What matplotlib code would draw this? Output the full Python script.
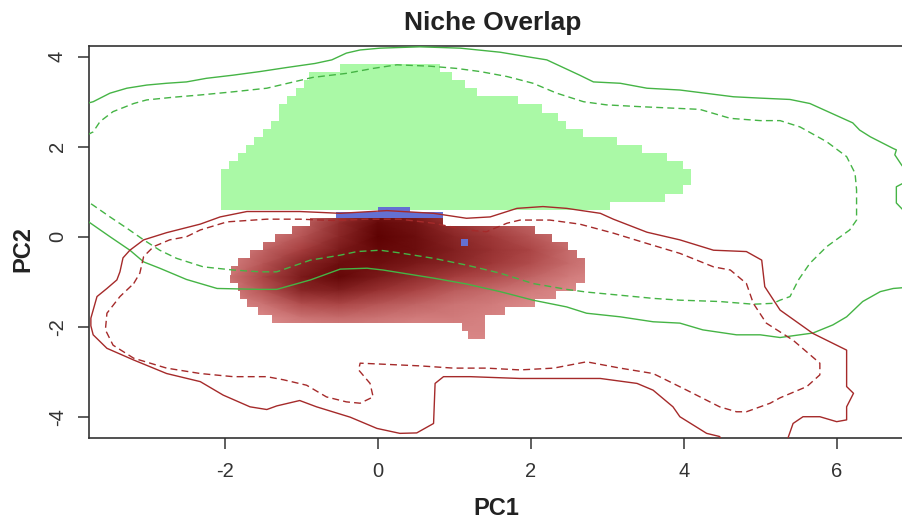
import numpy as np
import matplotlib
matplotlib.use('Agg')
import matplotlib.pyplot as plt
from matplotlib.colors import LinearSegmentedColormap
from matplotlib.path import Path

plt.rcParams['font.family'] = ['Liberation Sans', 'DejaVu Sans']
plt.rcParams['axes.unicode_minus'] = False

# ---------------- data (PC1 / PC2 units) ----------------
# green niche raster: one entry per grid row (row bottom, left edge, right edge)
green_y = [0.60, 0.78, 0.96, 1.14, 1.32, 1.50, 1.68, 1.86, 2.04, 2.22,
           2.40, 2.58, 2.76, 2.94, 3.12, 3.30, 3.48, 3.66]
green_left = [-2.05, -2.05, -2.05, -2.05, -2.05, -1.94, -1.83, -1.72, -1.62, -1.50,
              -1.40, -1.29, -1.29, -1.18, -1.07, -0.96, -0.90, -0.49]
green_right = [3.04, 3.75, 3.99, 4.09, 4.09, 3.99, 3.78, 3.46, 3.13, 2.68,
               2.46, 2.36, 2.15, 1.83, 1.30, 1.14, 0.97, 0.81]

# red niche raster rows
red_y = [0.24, 0.06, -0.12, -0.30, -0.48, -0.66, -0.84, -1.02, -1.20, -1.38,
         -1.56, -1.74, -1.92, -2.10, -2.28]
red_left = [-0.89, -1.12, -1.34, -1.50, -1.67, -1.83, -1.92, -1.93, -1.83, -1.80,
            -1.71, -1.57, -1.38, 1.10, 1.18]
red_right = [0.85, 2.06, 2.28, 2.49, 2.61, 2.71, 2.71, 2.71, 2.59, 2.33,
             2.06, 1.66, 1.40, 1.40, 1.40]

# density of the red niche (0 = light, 1 = darkest), coarse reading
dens_x = [-2.0, -1.5, -1.0, -0.5, 0.0, 0.5, 1.0, 1.5, 2.0, 2.5, 3.0]
dens_y = [0.6, 0.3, 0.0, -0.3, -0.6, -0.9, -1.2, -1.5, -1.8, -2.1, -2.4]
dens = [
    [0.00, 0.00, 0.10, 0.45, 0.80, 0.70, 0.45, 0.25, 0.10, 0.00, 0.00],
    [0.00, 0.05, 0.25, 0.65, 0.95, 0.85, 0.60, 0.40, 0.25, 0.05, 0.00],
    [0.00, 0.10, 0.35, 0.70, 1.00, 0.90, 0.70, 0.55, 0.35, 0.15, 0.05],
    [0.05, 0.25, 0.50, 0.80, 0.95, 0.90, 0.75, 0.60, 0.45, 0.20, 0.05],
    [0.05, 0.35, 0.70, 0.90, 0.90, 0.80, 0.70, 0.55, 0.40, 0.20, 0.05],
    [0.10, 0.45, 0.80, 0.95, 0.80, 0.65, 0.50, 0.40, 0.25, 0.10, 0.00],
    [0.05, 0.35, 0.70, 0.75, 0.60, 0.45, 0.30, 0.20, 0.10, 0.00, 0.00],
    [0.00, 0.15, 0.40, 0.45, 0.35, 0.25, 0.15, 0.10, 0.00, 0.00, 0.00],
    [0.00, 0.00, 0.15, 0.20, 0.15, 0.10, 0.10, 0.05, 0.00, 0.00, 0.00],
    [0.00, 0.00, 0.00, 0.05, 0.05, 0.00, 0.05, 0.05, 0.00, 0.00, 0.00],
    [0.00, 0.00, 0.00, 0.00, 0.00, 0.00, 0.00, 0.00, 0.00, 0.00, 0.00],
]

# overlap (blue) cells: bottom, height, left, right
blue_y = [0.42, 0.56, -0.21]
blue_h = [0.14, 0.11, 0.17]
blue_left = [-0.54, 0.00, 1.09]
blue_right = [0.85, 0.42, 1.18]

# contour lines (x, y)
green_solid_top = [(-3.83, 2.95), (-3.72, 3.00), (-3.50, 3.19), (-3.28, 3.30), (-3.02, 3.37),
                   (-2.76, 3.41), (-2.50, 3.44), (-2.24, 3.52), (-1.89, 3.59), (-1.54, 3.67),
                   (-1.19, 3.76), (-0.82, 3.85), (-0.60, 3.93), (-0.41, 4.08), (-0.23, 4.15),
                   (0.03, 4.19), (0.55, 4.22), (1.08, 4.19), (1.60, 4.10), (1.99, 3.99),
                   (2.21, 3.93), (2.64, 3.59), (2.82, 3.44), (3.17, 3.41), (3.52, 3.30),
                   (3.95, 3.26), (4.65, 3.11), (5.00, 3.08), (5.39, 3.05), (5.65, 2.96),
                   (6.21, 2.53), (6.30, 2.37), (6.44, 2.22), (6.74, 1.96), (6.78, 1.93),
                   (6.76, 1.82), (6.85, 1.59), (6.96, 1.37), (6.87, 1.19), (6.78, 1.11),
                   (6.78, 0.75), (6.87, 0.59), (6.96, 0.48)]
green_solid_low = [(-3.83, 0.39), (-3.72, 0.26), (-3.50, 0.00), (-3.24, -0.30), (-3.06, -0.56),
                   (-2.85, -0.70), (-2.50, -0.95), (-2.10, -1.15), (-1.54, -1.17), (-1.32, -1.17),
                   (-0.88, -0.96), (-0.49, -0.72), (-0.14, -0.70), (0.07, -0.74), (0.73, -0.92),
                   (1.16, -1.05), (1.60, -1.22), (2.03, -1.41), (2.47, -1.56), (2.73, -1.70),
                   (3.17, -1.78), (3.60, -1.89), (3.95, -1.92), (4.25, -2.07), (4.69, -2.18),
                   (5.00, -2.18), (5.26, -2.24), (5.69, -2.14), (5.95, -1.96), (6.13, -1.78),
                   (6.34, -1.44), (6.57, -1.22), (6.74, -1.15), (6.96, -1.12)]
green_dashed = [(-3.80, 2.26), (-3.72, 2.33), (-3.63, 2.56), (-3.46, 2.78), (-3.19, 2.96),
                (-3.02, 3.04), (-2.67, 3.10), (-2.32, 3.15), (-1.89, 3.22), (-1.45, 3.30),
                (-1.10, 3.44), (-0.85, 3.54), (-0.41, 3.63), (-0.06, 3.74), (0.25, 3.82),
                (0.68, 3.79), (1.03, 3.74), (1.34, 3.67), (1.69, 3.56), (2.03, 3.41),
                (2.34, 3.19), (2.69, 3.00), (2.99, 2.93), (3.43, 2.89), (3.95, 2.85),
                (4.21, 2.83), (4.61, 2.63), (5.00, 2.58), (5.26, 2.58), (5.52, 2.44),
                (5.87, 2.11), (6.13, 1.78), (6.24, 1.41), (6.26, 1.04), (6.26, 0.37),
                (6.17, 0.15), (5.87, -0.22), (5.65, -0.59), (5.50, -0.96), (5.39, -1.33),
                (5.26, -1.41), (5.17, -1.48), (4.91, -1.50), (4.47, -1.44), (3.95, -1.41),
                (3.60, -1.37), (3.17, -1.30), (2.73, -1.23), (2.47, -1.17), (2.03, -1.04),
                (1.60, -0.81), (1.16, -0.63), (0.73, -0.48), (0.29, -0.36), (0.03, -0.30),
                (-0.27, -0.33), (-0.49, -0.41), (-0.88, -0.52), (-1.32, -0.78), (-1.54, -0.78),
                (-1.89, -0.74), (-2.28, -0.67), (-2.63, -0.48), (-2.85, -0.30), (-3.06, -0.07),
                (-3.28, 0.19), (-3.50, 0.44), (-3.72, 0.70), (-3.80, 0.79)]
red_solid = [(4.50, -4.54), (4.47, -4.44), (4.30, -4.37), (3.95, -4.00), (3.86, -3.78),
             (3.60, -3.41), (3.39, -3.26), (2.91, -3.15), (1.86, -3.15), (1.21, -3.11),
             (0.86, -3.11), (0.75, -3.26), (0.73, -4.15), (0.51, -4.36), (0.29, -4.37),
             (-0.01, -4.26), (-0.36, -4.01), (-0.80, -3.78), (-1.02, -3.64), (-1.32, -3.76),
             (-1.45, -3.84), (-1.67, -3.78), (-2.02, -3.52), (-2.32, -3.22), (-2.76, -3.04),
             (-3.19, -2.74), (-3.54, -2.48), (-3.72, -2.18), (-3.75, -1.98), (-3.75, -1.81),
             (-3.72, -1.63), (-3.67, -1.33), (-3.54, -1.15), (-3.41, -0.96), (-3.37, -0.78),
             (-3.33, -0.47), (-3.24, -0.30), (-3.06, -0.07), (-2.76, 0.09), (-2.32, 0.28),
             (-2.06, 0.44), (-1.71, 0.56), (-1.45, 0.56), (-1.02, 0.56), (-0.49, 0.52),
             (0.12, 0.58), (0.73, 0.52), (1.16, 0.41), (1.47, 0.44), (1.82, 0.63),
             (2.16, 0.67), (2.47, 0.63), (2.91, 0.52), (3.08, 0.39), (3.52, 0.10),
             (3.95, -0.07), (4.39, -0.30), (4.82, -0.33), (5.02, -0.52), (5.06, -1.11),
             (5.26, -1.63), (5.69, -2.15), (6.13, -2.52), (6.13, -3.33), (6.22, -3.48),
             (6.13, -3.78), (6.13, -4.07), (6.00, -4.11), (5.78, -4.00), (5.56, -4.00),
             (5.43, -4.15), (5.37, -4.44), (5.35, -4.56)]
red_dashed = [(-3.19, -1.04), (-3.11, -0.81), (-3.06, -0.44), (-2.93, -0.22), (-2.72, -0.07),
              (-2.50, 0.00), (-2.32, 0.15), (-1.97, 0.33), (-1.45, 0.39), (-1.02, 0.39),
              (-0.58, 0.36), (-0.14, 0.39), (0.29, 0.39), (0.73, 0.30), (1.16, 0.15),
              (1.42, 0.11), (1.69, 0.30), (1.86, 0.37), (2.25, 0.37), (2.64, 0.28),
              (3.08, 0.08), (3.52, -0.15), (3.95, -0.37), (4.39, -0.67), (4.61, -0.74),
              (4.82, -1.04), (4.91, -1.48), (5.08, -1.92), (5.43, -2.30), (5.78, -2.81),
              (5.78, -3.07), (5.61, -3.33), (5.26, -3.58), (5.13, -3.70), (4.82, -3.89),
              (4.69, -3.89), (4.47, -3.78), (4.04, -3.41), (3.60, -3.04), (3.17, -2.92),
              (2.73, -2.78), (2.30, -2.92), (1.86, -2.96), (1.42, -2.92), (0.99, -2.92),
              (0.55, -2.87), (0.29, -2.85), (-0.23, -2.81), (-0.25, -2.96), (-0.10, -3.26),
              (-0.06, -3.56), (-0.23, -3.70), (-0.41, -3.67), (-0.67, -3.56), (-0.93, -3.30),
              (-1.23, -3.18), (-1.45, -3.11), (-1.89, -3.11), (-2.32, -3.04), (-2.76, -2.92),
              (-3.19, -2.70), (-3.46, -2.41), (-3.56, -2.07), (-3.54, -1.70), (-3.37, -1.33),
              (-3.19, -1.04)]

xticks = [-2, 0, 2, 4, 6]
yticks = [-4, -2, 0, 2, 4]

CELL_H = 0.18
GREEN_FILL = '#AAF9A6'
GREEN_LINE = '#45B445'
RED_LINE = '#A52A2A'
BLUE_FILL = '#6470D2'
DARK = '#333333'


def step_outline(bottoms, lefts, rights, h):
    # outline of stacked raster rows: down the right side, then back up the left
    order = np.argsort(bottoms)[::-1]
    xs, ys = [], []
    for i in order:
        xs += [rights[i], rights[i]]
        ys += [bottoms[i] + h, bottoms[i]]
    for i in order[::-1]:
        xs += [lefts[i], lefts[i]]
        ys += [bottoms[i], bottoms[i] + h]
    return xs, ys


fig = plt.figure(figsize=(9.03, 5.21), dpi=100)
ax = fig.add_axes([0.0986, 0.1593, 0.9014, 0.7524])

# green raster
gx, gy = step_outline(green_y, green_left, green_right, CELL_H)
ax.fill(gx, gy, color=GREEN_FILL, lw=0, zorder=1)

# red raster, shaded by density and clipped to its cells
rx, ry = step_outline(red_y, red_left, red_right, CELL_H)
verts = np.column_stack([rx + [rx[0]], ry + [ry[0]]])
clip = Path(verts, closed=True)
cmap = LinearSegmentedColormap.from_list('niche', ['#DB8A8A', '#A63E3E', '#5E0202'])
X, Y = np.meshgrid(dens_x, dens_y)
mesh = ax.pcolormesh(X, Y, np.array(dens), shading='gouraud', cmap=cmap,
                     vmin=0, vmax=1, zorder=2)
mesh.set_clip_path(clip, ax.transData)

# overlap cells
ax.barh(blue_y, np.array(blue_right) - np.array(blue_left), left=blue_left,
        height=blue_h, align='edge', color=BLUE_FILL, lw=0, zorder=3)

# contours
dash = (0, (5, 3))
for pts, col, ls in [(green_solid_top, GREEN_LINE, '-'), (green_solid_low, GREEN_LINE, '-'),
                     (green_dashed, GREEN_LINE, dash), (red_solid, RED_LINE, '-'),
                     (red_dashed, RED_LINE, dash)]:
    xs, ys = zip(*pts)
    ax.plot(xs, ys, color=col, lw=1.0, ls=ls, zorder=4)

ax.set_xlim(-3.774, 6.867)
ax.set_ylim(-4.473, 4.238)
ax.set_xticks(xticks)
ax.set_yticks(yticks)
ax.tick_params(direction='out', length=8, width=1.1, color=DARK,
               labelcolor=DARK, labelsize=14.5)
ax.tick_params(axis='x', pad=9.5)
ax.tick_params(axis='y', pad=8)
for lab in ax.get_yticklabels():
    lab.set_rotation(90)
    lab.set_va('center')
    lab.set_ha('right')

ax.spines['right'].set_visible(False)
for s in ['left', 'bottom', 'top']:
    ax.spines[s].set_linewidth(1.2)
    ax.spines[s].set_color(DARK)

fig.text(492.5 / 903, 1 - 30 / 521, 'Niche Overlap', fontsize=19, fontweight='bold',
         ha='center', va='baseline', color='#222222')
fig.text(496.5 / 903, 1 - 515 / 521, 'PC1', fontsize=17, fontweight='bold',
         ha='center', va='baseline', color='#222222')
fig.text(23 / 903, 1 - 249 / 521, 'PC2', fontsize=17, fontweight='bold',
         ha='center', va='center', rotation=90, color='#222222')

fig.savefig('out.png', dpi=100)
